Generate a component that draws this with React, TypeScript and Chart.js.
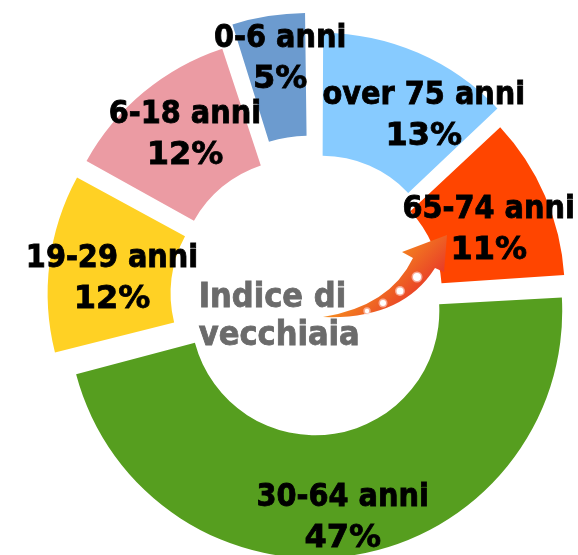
import React, { useEffect, useRef } from 'react';
import { Chart, registerables } from 'chart.js';

Chart.register(...registerables);

// ---- data ----
const categories = ['over 75 anni', '65-74 anni', '30-64 anni', '19-29 anni', '6-18 anni', '0-6 anni'];
const shares = [13, 11, 47, 12, 12, 5];
const colors = ['#87CBFF', '#FF4500', '#569E1F', '#FFD124', '#EB9BA3', '#6C9BCF'];
const explode = [95, 53, 60, 92, 91, 115];
const centerTitle = ['Indice di', 'vecchiaia'];
// label placement: [radius factor of outer radius, angle tweak in degrees]
const labelPlace: number[][] = [
  [0.9, 8.3],
  [0.8, 2.8],
  [0.952, 1.3],
  [0.857, -2.3],
  [0.875, 1.2],
  [1.02, 1.2],
];

const COND = '"DejaVu Sans Condensed", "DejaVu Sans", sans-serif';
const WIDE = '"DejaVu Sans", sans-serif';

function boldText(ctx: CanvasRenderingContext2D, text: string, x: number, y: number) {
  ctx.fillText(text, x, y);
  ctx.strokeText(text, x, y);
}

const overlay = {
  id: 'overlay',
  afterDatasetsDraw(chart: any) {
    const ctx: CanvasRenderingContext2D = chart.ctx;
    const meta = chart.getDatasetMeta(0);
    const cx = meta.data[0].x;
    const cy = meta.data[0].y;
    ctx.save();

    // arrow
    const P = (dx: number, dy: number): [number, number] => [cx + dx - 312.7, cy + dy - 296.2];
    const g = ctx.createLinearGradient(...P(395, 238), ...P(450, 292));
    g.addColorStop(0, '#F7931E');
    g.addColorStop(1, '#E3202B');
    ctx.fillStyle = g;
    ctx.beginPath();
    ctx.moveTo(...P(323, 317));
    ctx.quadraticCurveTo(...P(390, 306), ...P(413, 258));
    ctx.lineTo(...P(402, 252));
    ctx.lineTo(...P(447, 235));
    ctx.lineTo(...P(444, 272));
    ctx.lineTo(...P(435, 268));
    ctx.quadraticCurveTo(...P(402, 320), ...P(323, 317));
    ctx.closePath();
    ctx.fill();
    const dots = [
      [417, 277, 4],
      [400, 291, 3.5],
      [383, 303, 3],
      [367, 311, 2.2],
    ];
    dots.forEach(([x, y, r]) => {
      const [px, py] = P(x, y);
      ctx.beginPath();
      ctx.arc(px, py, r + 1.5, 0, Math.PI * 2);
      ctx.fillStyle = 'rgba(255,220,220,0.6)';
      ctx.fill();
      ctx.beginPath();
      ctx.arc(px, py, r, 0, Math.PI * 2);
      ctx.fillStyle = '#FFFFFF';
      ctx.fill();
    });

    // center text
    ctx.fillStyle = '#6B6B6B';
    ctx.strokeStyle = '#6B6B6B';
    ctx.lineWidth = 0.8;
    ctx.font = `bold 34px ${COND}`;
    ctx.textAlign = 'left';
    ctx.textBaseline = 'alphabetic';
    boldText(ctx, centerTitle[0], cx - 114, cy + 11);
    boldText(ctx, centerTitle[1], cx - 114, cy + 49);

    // segment labels
    ctx.fillStyle = '#000000';
    ctx.strokeStyle = '#000000';
    ctx.textAlign = 'center';
    ctx.textBaseline = 'middle';
    meta.data.forEach((arc: any, i: number) => {
      const p = arc.getProps(['x', 'y', 'startAngle', 'endAngle', 'outerRadius'], true);
      const [rf, da] = labelPlace[i];
      const a = (p.startAngle + p.endAngle) / 2 + (da * Math.PI) / 180;
      const lx = p.x + Math.cos(a) * p.outerRadius * rf;
      const ly = p.y + Math.sin(a) * p.outerRadius * rf;
      ctx.font = `bold 32px ${COND}`;
      boldText(ctx, categories[i], lx, ly - 20.5);
      ctx.font = `bold 32px ${WIDE}`;
      boldText(ctx, `${shares[i]}%`, lx, ly + 20.5);
    });
    ctx.restore();
  },
};

export default function App() {
  const ref = useRef<HTMLCanvasElement | null>(null);
  useEffect(() => {
    if (!ref.current) return;
    const chart = new Chart(ref.current, {
      type: 'doughnut',
      data: {
        labels: categories,
        datasets: [
          {
            data: shares,
            backgroundColor: colors,
            borderWidth: 0,
            offset: explode,
          },
        ],
      },
      options: {
        responsive: false,
        maintainAspectRatio: false,
        devicePixelRatio: 1,
        animation: false,
        radius: 235,
        cutout: '47.7%',
        layout: { padding: { left: 47.4, top: 37.4, right: 0, bottom: 0 } },
        plugins: {
          legend: { display: false },
          tooltip: { enabled: false },
        },
      } as any,
      plugins: [overlay],
    });
    return () => chart.destroy();
  }, []);
  return (
    <div style={{ position: 'fixed', left: 0, top: 0, width: 578, height: 555, background: '#fff' }}>
      <canvas ref={ref} width={578} height={555} />
    </div>
  );
}
